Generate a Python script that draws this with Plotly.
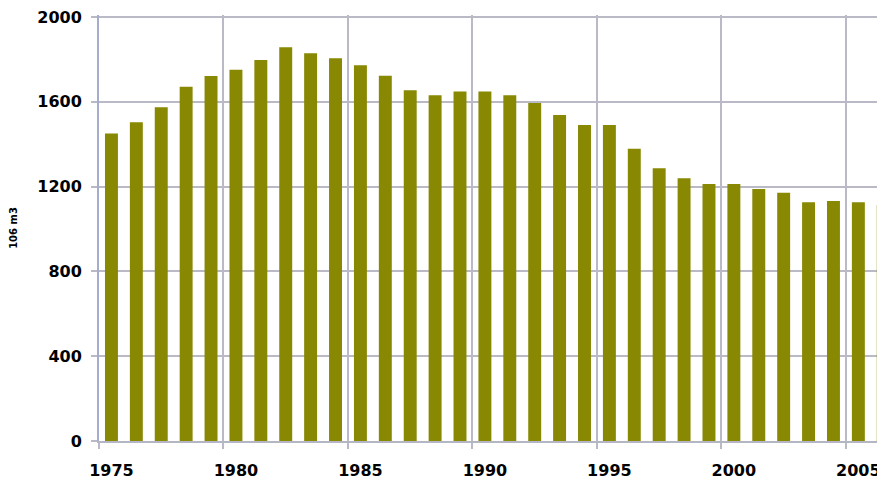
import plotly.graph_objects as go

years = list(range(1975, 2007))
values = [1451, 1503, 1574, 1671, 1722, 1751, 1797, 1857, 1829, 1805,
          1772, 1723, 1654, 1631, 1648, 1648, 1631, 1594, 1538, 1491,
          1491, 1379, 1286, 1239, 1212, 1212, 1189, 1171, 1126, 1132,
          1126, 1113]
label_years = [1975, 1980, 1985, 1990, 1995, 2000, 2005]
y_ticks = [0, 400, 800, 1200, 1600, 2000]
grid_bounds = [y - 0.5 for y in label_years]

xr = [1974.5, 2006.07]
font_tick = dict(family="DejaVu Sans", size=16, color="black", weight="bold")

fig = go.Figure()
fig.add_trace(go.Bar(x=years, y=values, width=0.52,
                     marker=dict(color="#888802", line=dict(width=0)),
                     showlegend=False))
# invisible trace to activate the boundary axis
fig.add_trace(go.Scatter(x=[xr[0]], y=[0], xaxis="x2", mode="markers",
                         marker=dict(opacity=0), showlegend=False, hoverinfo="skip"))

fig.update_layout(
    width=877, height=473,
    margin=dict(l=91, r=0, t=7, b=40, autoexpand=False),
    paper_bgcolor="white", plot_bgcolor="white",
    xaxis=dict(range=xr, tickmode="array", tickvals=label_years,
               ticktext=[str(y) for y in label_years],
               showgrid=False, ticks="", tickfont=font_tick, automargin=False,
               ticklabelstandoff=14, showline=True, linecolor="#B4B6C4",
               linewidth=2, zeroline=False),
    xaxis2=dict(range=xr, overlaying="x", side="bottom", tickmode="array",
                tickvals=grid_bounds, showticklabels=False, showgrid=True,
                gridcolor="#B9BAC6", gridwidth=2, ticks="outside", ticklen=7,
                tickcolor="#B9BAC6", tickwidth=2, zeroline=False, automargin=False,
                showline=False, layer="below traces"),
    yaxis=dict(range=[0, 2009.4], tickmode="array", tickvals=y_ticks,
               showgrid=True, gridcolor="#B9BAC6", gridwidth=2,
               ticks="outside", ticklen=6, tickcolor="#B9BAC6", tickwidth=2,
               tickfont=font_tick, ticklabelstandoff=6, automargin=False,
               ticklabeloverflow="allow",
               showline=True, linecolor="#A6ADCB", linewidth=2,
               zeroline=False,
               title=dict(text="106 m3", standoff=36,
                          font=dict(family="DejaVu Sans", size=10,
                                    color="black", weight="bold"))),
    bargap=0.48,
)

fig.write_html("out.html")
